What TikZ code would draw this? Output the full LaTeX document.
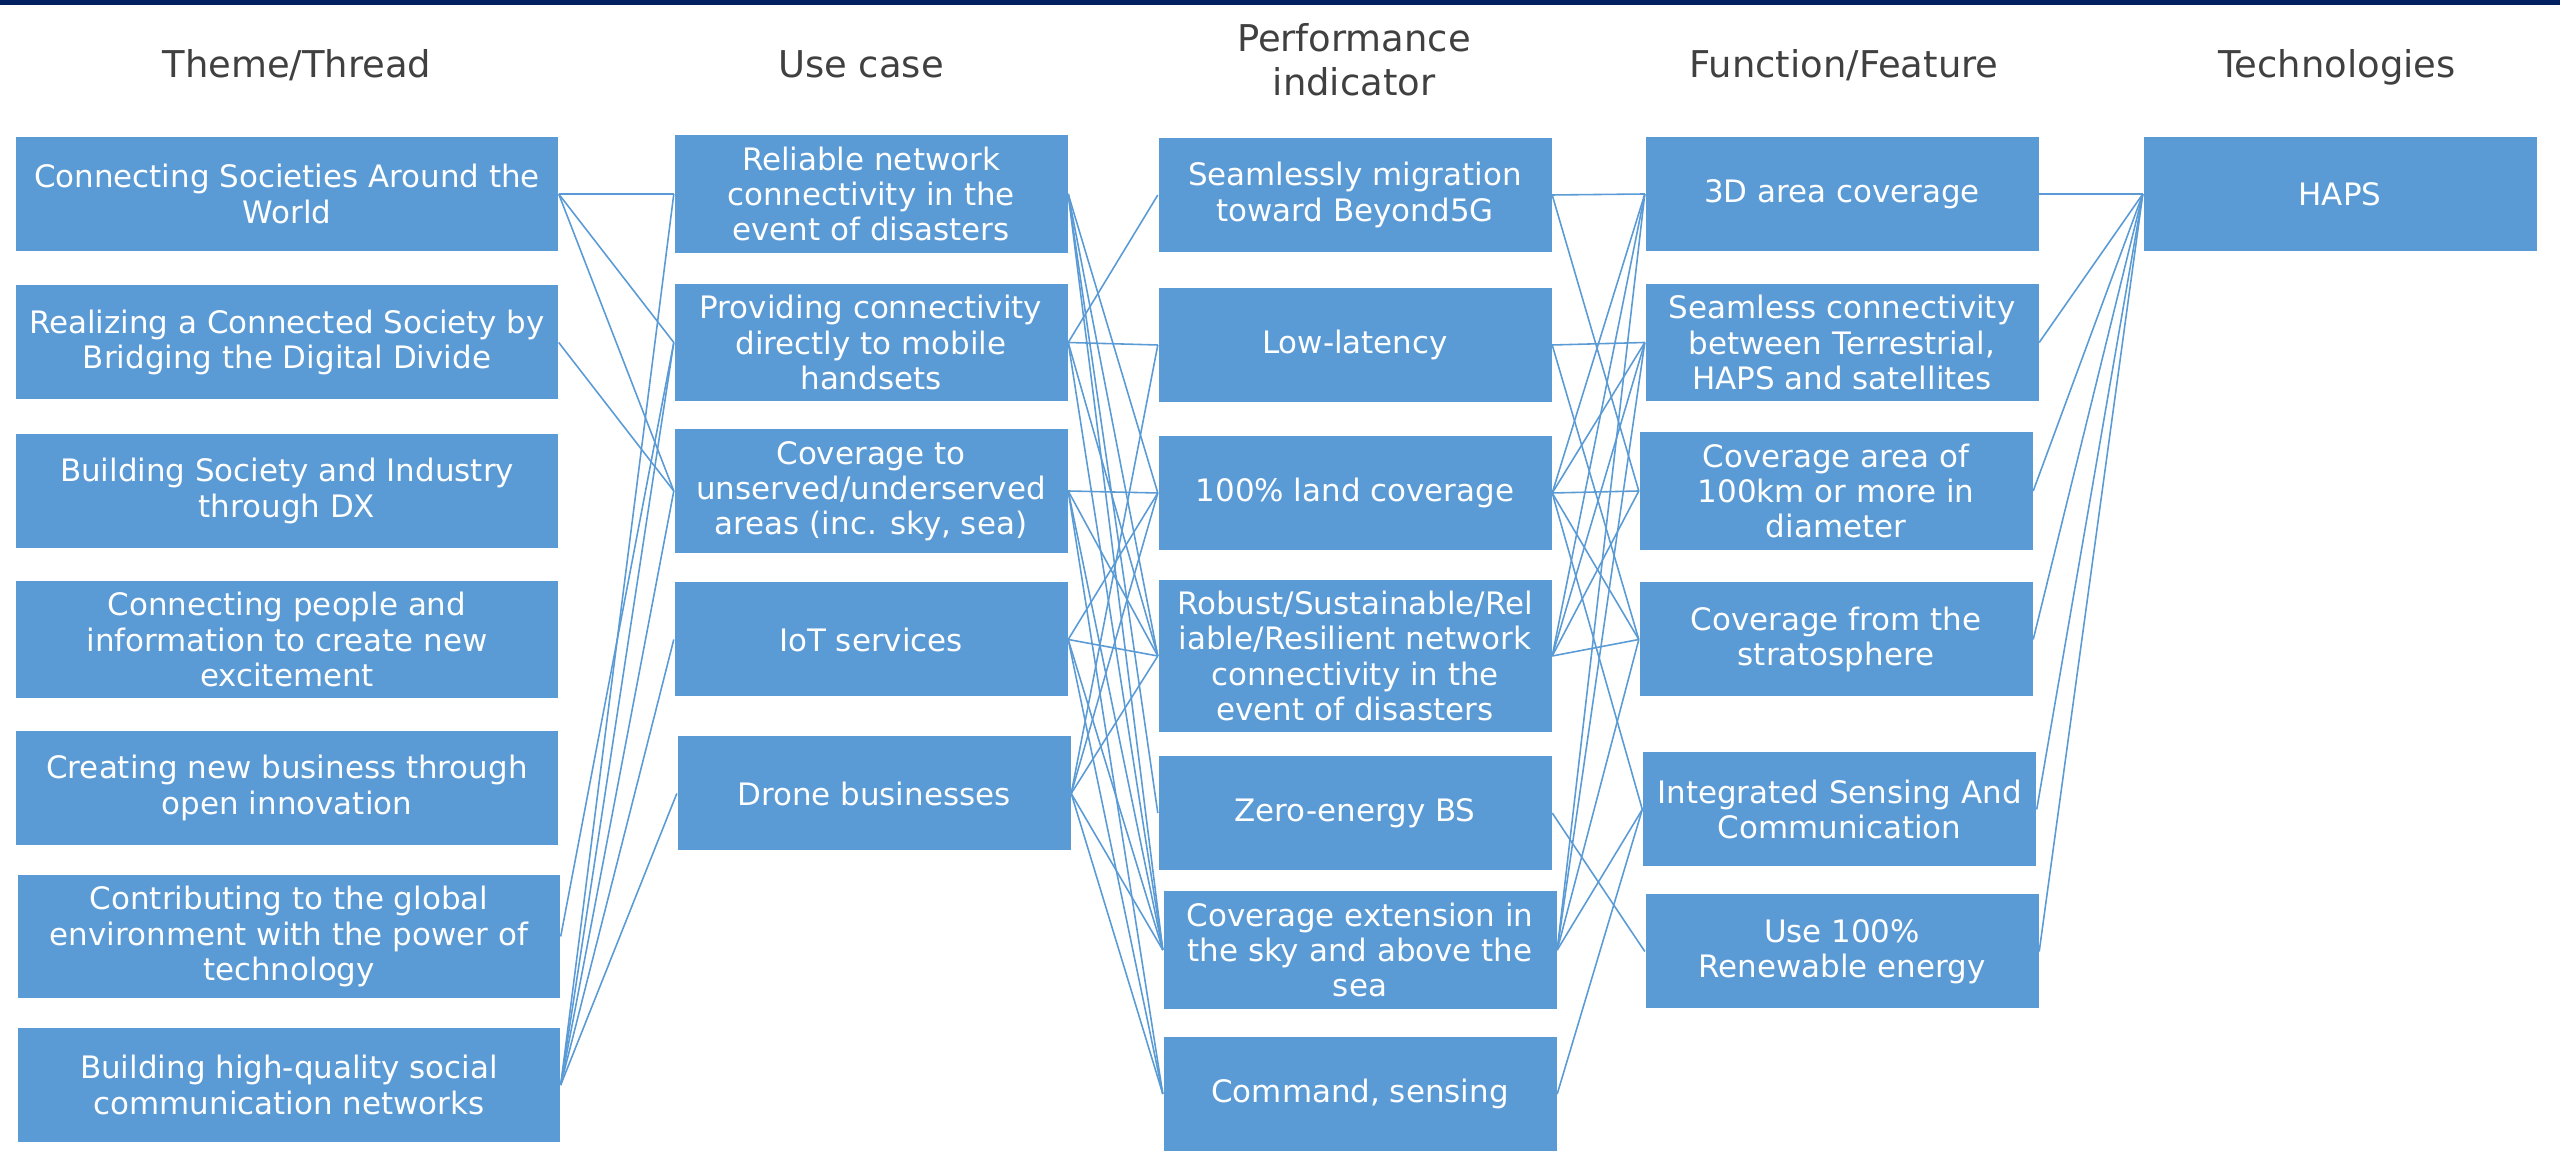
\documentclass[tikz,border=0pt]{standalone}
\usepackage{fontspec}
\setmainfont{DejaVu Sans}
\usepackage{tikz}
\usetikzlibrary{shapes.geometric, arrows}
\definecolor{boxblue}{RGB}{91,155,213}
\definecolor{topnavy}{RGB}{0,32,96}
\definecolor{headgrey}{RGB}{64,64,64}
\tikzstyle{theme} = [rectangle, minimum width=5.42cm, minimum height=1.14cm, text centered, align=center, fill=boxblue, text=white, font=\fontsize{8.8}{10}\selectfont]
\tikzstyle{item} = [theme, minimum width=3.93cm]
\tikzstyle{heading} = [text centered, align=center, text=headgrey, font=\fontsize{10.5}{12.5}\selectfont]
\tikzstyle{link} = [line width=0.45pt, boxblue]

\begin{document}
\begin{tikzpicture}[node distance=1.485cm]
\useasboundingbox (0,0) rectangle (25.6,-11.53);
\fill [topnavy] (0,0) rectangle (25.6,-0.05);

% column headings
\node (h1) [heading, anchor=base] at (2.97,-0.78) {Theme/Thread};

\node (h2) [heading, anchor=base] at (8.61,-0.78) {Use case};

\node (h3) [heading] at (13.54,-0.6) {Performance\\indicator};

\node (h4) [heading, anchor=base] at (18.44,-0.78) {Function/Feature};

\node (h5) [heading, anchor=base] at (23.37,-0.78) {Technologies};

% theme / thread
\node (t1) [theme] at (2.87,-1.94) {Connecting Societies Around the\\World};

\node (t2) [theme, below of=t1] {Realizing a Connected Society by\\Bridging the Digital Divide};

\node (t3) [theme, below of=t2] {Building Society and Industry\\through DX};

\node (t4) [theme, below of=t3] {Connecting people and\\information to create new\\excitement};

\node (t5) [theme, below of=t4] {Creating new business through\\open innovation};

\node (t6) [theme, below of=t5, xshift=0.02cm] {Contributing to the global\\environment with the power of\\technology};

\node (t7) [theme, below of=t6] {Building high-quality social\\communication networks};

% use case
\node (u1) [item] at (8.71,-1.94) {Reliable network\\connectivity in the\\event of disasters};

\node (u2) [item, below of=u1] {Providing connectivity\\directly to mobile\\handsets};

\node (u3) [item, below of=u2] {Coverage to\\unserved/underserved\\areas (inc. sky, sea)};

\node (u4) [item, below of=u3] {IoT services};

\node (u5) [item, below of=u4, xshift=0.03cm, yshift=-0.055cm] {Drone businesses};

% performance indicator
\node (p1) [item] at (13.55,-1.95) {Seamlessly migration\\toward Beyond5G};

\node (p2) [item, below of=p1, yshift=-0.015cm] {Low-latency};

\node (p3) [item, below of=p2, yshift=0.005cm] {100\% land coverage};

\node (p4) [item, minimum height=1.45cm, below of=p3, yshift=-0.145cm] {Robust/Sustainable/Rel\\iable/Resilient network\\connectivity in the\\event of disasters};

\node (p5) [item, below of=p4, yshift=-0.085cm] {Zero-energy BS};

\node (p6) [item, below of=p5, xshift=0.05cm, yshift=0.115cm] {Coverage extension in\\the sky and above the\\sea};

\node (p7) [item, below of=p6, yshift=0.045cm] {Command, sensing};

% function / feature
\node (f1) [item] at (18.42,-1.94) {3D area coverage};

\node (f2) [item, below of=f1] {Seamless connectivity\\between Terrestrial,\\HAPS and satellites};

\node (f3) [item, below of=f2, xshift=-0.06cm] {Coverage area of\\100km or more in\\diameter};

\node (f4) [item, below of=f3] {Coverage from the\\stratosphere};

\node (f5) [item, below of=f4, xshift=0.035cm, yshift=-0.215cm] {Integrated Sensing And\\Communication};

\node (f6) [item, below of=f5, xshift=0.025cm, yshift=0.065cm] {Use 100\%\\Renewable energy};

% technologies
\node (haps) [item] at (23.40,-1.94) {HAPS};

% theme -> use case
\draw [link] (t1.east) -- (u1.west);
\draw [link] (t1.east) -- (u2.west);
\draw [link] (t1.east) -- (u3.west);
\draw [link] (t2.east) -- (u3.west);
\draw [link] (t6.east) -- (u2.west);
\draw [link] (t7.east) -- (u1.west);
\draw [link] (t7.east) -- (u2.west);
\draw [link] (t7.east) -- (u3.west);
\draw [link] (t7.east) -- (u4.west);
\draw [link] (t7.east) -- (u5.west);

% use case -> performance indicator
\draw [link] (u1.east) -- (p3.west);
\draw [link] (u1.east) -- (p4.west);
\draw [link] (u1.east) -- (p5.west);
\draw [link] (u1.east) -- (p6.west);
\draw [link] (u2.east) -- (p1.west);
\draw [link] (u2.east) -- (p2.west);
\draw [link] (u2.east) -- (p4.west);
\draw [link] (u2.east) -- (p6.west);
\draw [link] (u3.east) -- (p3.west);
\draw [link] (u3.east) -- (p4.west);
\draw [link] (u3.east) -- (p6.west);
\draw [link] (u3.east) -- (p7.west);
\draw [link] (u4.east) -- (p3.west);
\draw [link] (u4.east) -- (p4.west);
\draw [link] (u4.east) -- (p6.west);
\draw [link] (u4.east) -- (p7.west);
\draw [link] (u5.east) -- (p2.west);
\draw [link] (u5.east) -- (p3.west);
\draw [link] (u5.east) -- (p4.west);
\draw [link] (u5.east) -- (p6.west);
\draw [link] (u5.east) -- (p7.west);

% performance indicator -> function / feature
\draw [link] (p1.east) -- (f1.west);
\draw [link] (p1.east) -- (f3.west);
\draw [link] (p2.east) -- (f2.west);
\draw [link] (p2.east) -- (f4.west);
\draw [link] (p3.east) -- (f1.west);
\draw [link] (p3.east) -- (f2.west);
\draw [link] (p3.east) -- (f3.west);
\draw [link] (p3.east) -- (f4.west);
\draw [link] (p3.east) -- (f5.west);
\draw [link] (p4.east) -- (f1.west);
\draw [link] (p4.east) -- (f2.west);
\draw [link] (p4.east) -- (f3.west);
\draw [link] (p4.east) -- (f4.west);
\draw [link] (p5.east) -- (f6.west);
\draw [link] (p6.east) -- (f1.west);
\draw [link] (p6.east) -- (f2.west);
\draw [link] (p6.east) -- (f4.west);
\draw [link] (p6.east) -- (f5.west);
\draw [link] (p7.east) -- (f5.west);

% function / feature -> technologies
\draw [link] (f1.east) -- (haps.west);
\draw [link] (f2.east) -- (haps.west);
\draw [link] (f3.east) -- (haps.west);
\draw [link] (f4.east) -- (haps.west);
\draw [link] (f5.east) -- (haps.west);
\draw [link] (f6.east) -- (haps.west);

\end{tikzpicture}
\end{document}
